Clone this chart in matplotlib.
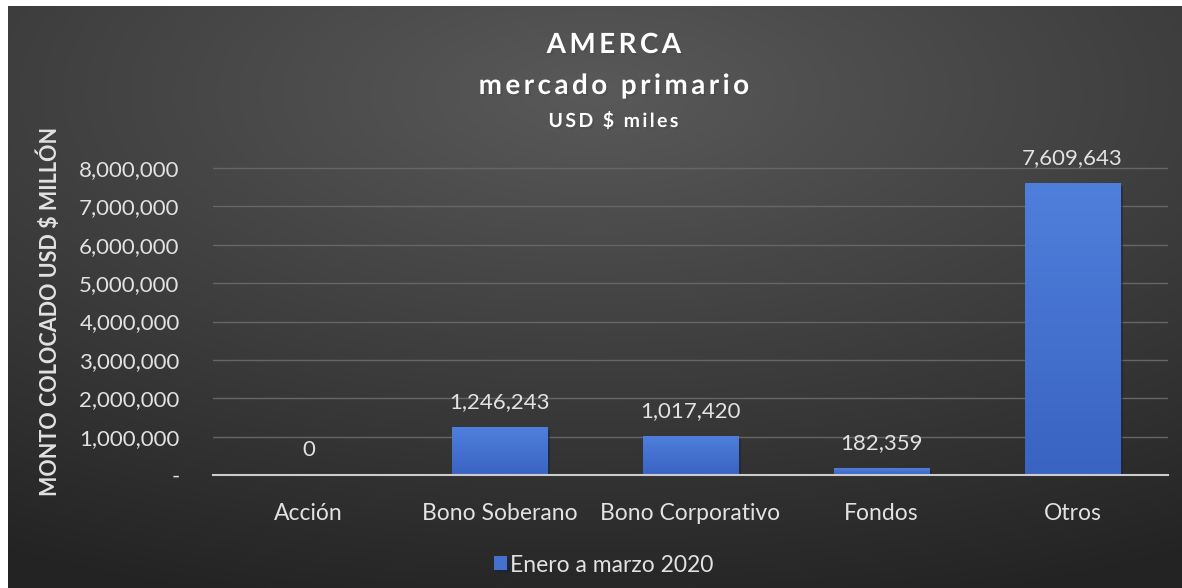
import matplotlib
matplotlib.use("Agg")
import matplotlib.pyplot as plt
import matplotlib.patheffects as pe
import numpy as np
from matplotlib.ticker import FuncFormatter
from matplotlib.colors import LinearSegmentedColormap

categories = ["Acción", "Bono Soberano", "Bono Corporativo", "Fondos", "Otros"]
values = [0, 1246243, 1017420, 182359, 7609643]
series_name = "Enero a marzo 2020"
y_ticks = [0, 1000000, 2000000, 3000000, 4000000, 5000000, 6000000, 7000000, 8000000]

plt.rcParams["font.family"] = ["Lato", "DejaVu Sans"]

W, H = 1182, 588
TXT = "#e2e2e2"


def spaced(s):
    # Excel title uses expanded character spacing
    return "\u2009".join(s)


fig = plt.figure(figsize=(W / 100, H / 100), dpi=100)
fig.patch.set_facecolor("white")

# background: dark radial gradient, white margin at top/left
bg = fig.add_axes([8 / W, 0, 1 - 8 / W, 1 - 6 / H])
bg.set_axis_off()
yy, xx = np.mgrid[0:1:300j, 0:1:600j]
d = np.sqrt(((xx - 0.5) * 1.0) ** 2 + ((yy - 0.15) * 1.1) ** 2)
shade = 0.35 - 0.21 * np.clip(d, 0, 1)
img = np.dstack([shade, shade, shade])
bg.imshow(img, aspect="auto", extent=[0, 1, 0, 1], origin="upper")
bg.set_zorder(-10)

ax = fig.add_axes([213 / W, 1 - 475 / H, (1168 - 213) / W, (475 - 168) / H * 8.35 / 8])
ax.set_facecolor("none")
x = np.arange(len(categories))
shadow = [pe.SimplePatchShadow(offset=(2, -2), alpha=0.5), pe.Normal()]
bars = ax.bar(x, values, width=0.5, color="#4570cc", zorder=3, path_effects=shadow)

# vertical gradient inside each bar
bar_cmap = LinearSegmentedColormap.from_list("bar", ["#3a63c2", "#4f7fdc"])
grad = np.linspace(0, 1, 256).reshape(-1, 1)
for b in bars:
    if b.get_height() <= 0:
        continue
    im = ax.imshow(grad, cmap=bar_cmap, origin="lower", aspect="auto", zorder=3.5,
                   extent=[b.get_x(), b.get_x() + b.get_width(), 0, b.get_height()])
    im.set_clip_path(b)

ax.set_xlim(-0.5, len(categories) - 0.5)
ax.set_ylim(0, 8350000)
ax.set_yticks(y_ticks)
ax.yaxis.set_major_formatter(FuncFormatter(lambda v, p: "-" if v == 0 else f"{int(v):,}"))
ax.set_xticks(x)
ax.set_xticklabels(categories)
ax.tick_params(axis="both", length=0, colors=TXT)
ax.tick_params(axis="y", labelsize=16, pad=24)
ax.tick_params(axis="x", labelsize=16.5, pad=20)
ax.grid(axis="y", color="#666666", linewidth=1.0, zorder=0)
for s in ["top", "right", "left"]:
    ax.spines[s].set_visible(False)
ax.spines["bottom"].set_color("#cccccc")
ax.spines["bottom"].set_linewidth(1.5)
ax.spines["bottom"].set_zorder(4)

for xi, v in zip(x, values):
    ax.annotate(f"{v:,}", (xi, v), xytext=(0, 11), textcoords="offset points",
                ha="center", va="bottom", color=TXT, fontsize=16)

ax.set_ylabel("MONTO COLOCADO USD $ MILLÓN", color=TXT, fontsize=15.5,
              fontweight="bold")
ax.yaxis.set_label_coords(-152 / (1168 - 213), 0.51)

tshadow = [pe.withSimplePatchShadow(offset=(1.5, -1.5), alpha=0.6)]
fig.text(614 / W, 1 - 45 / H, spaced("AMERCA"), ha="center", va="center", color="white",
         fontsize=20, fontweight="bold", path_effects=tshadow)
fig.text(614 / W, 1 - 86 / H, spaced("mercado primario"), ha="center", va="center",
         color="white", fontsize=20, fontweight="bold", path_effects=tshadow)
fig.text(614 / W, 1 - 121 / H, spaced("USD $ miles"), ha="center", va="center",
         color="white", fontsize=14, fontweight="bold", path_effects=tshadow)

leg = fig.legend([bars], [series_name], loc="center", bbox_to_anchor=(604 / W, 1 - 565 / H),
                 frameon=False, fontsize=16.5, handlelength=0.55, handleheight=0.55,
                 handletextpad=0.15, labelcolor=TXT)

fig.savefig("out.png", dpi=100)
